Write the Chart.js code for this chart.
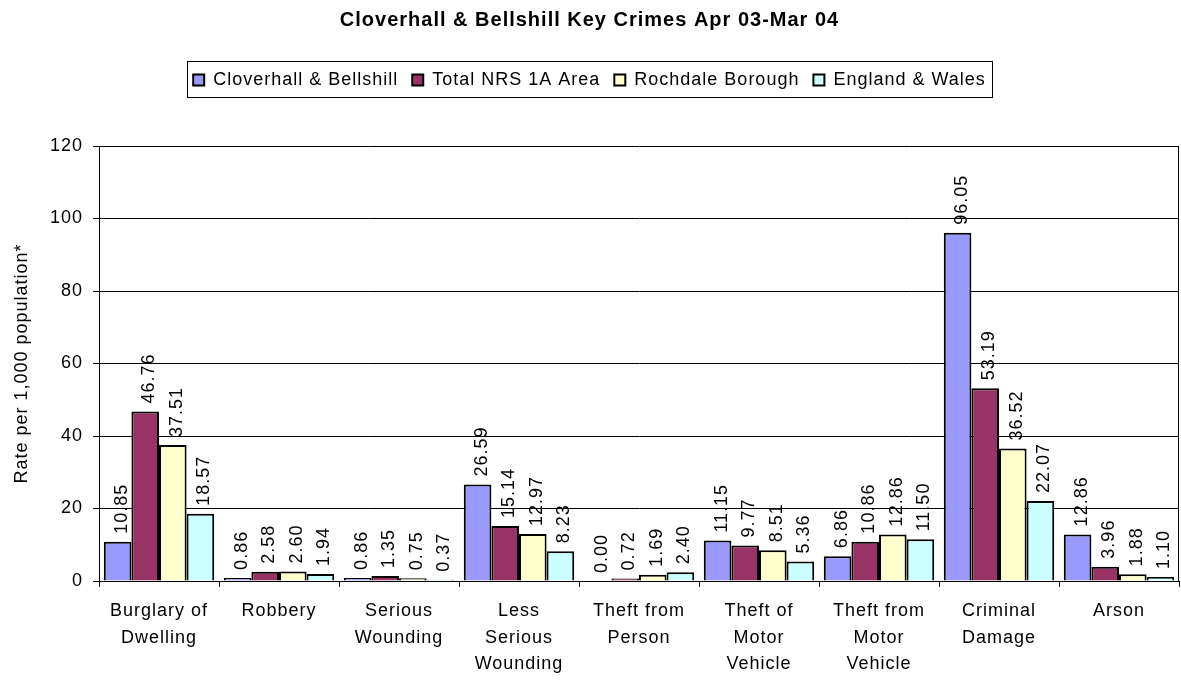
<!DOCTYPE html>
<html>
<head>
<meta charset="utf-8">
<title>Key Crimes</title>
<script src="https://cdn.jsdelivr.net/npm/chart.js@4/dist/chart.umd.min.js"></script>
<style>
  html, body { margin: 0; padding: 0; background: #fff; }
  #wrap { width: 1181px; height: 684px; }
</style>
</head>
<body>
<div id="wrap"><canvas id="keyCrimes"></canvas></div>
<script>
const crimeTypes = [
  ["Burglary of", "Dwelling"],
  "Robbery",
  ["Serious", "Wounding"],
  ["Less", "Serious", "Wounding"],
  ["Theft from", "Person"],
  ["Theft of", "Motor", "Vehicle"],
  ["Theft from", "Motor", "Vehicle"],
  ["Criminal", "Damage"],
  "Arson",
];
const cloverhall = [10.85, 0.86, 0.86, 26.59, 0.0, 11.15, 6.86, 96.05, 12.86];
const totalNrs = [46.76, 2.58, 1.35, 15.14, 0.72, 9.77, 10.86, 53.19, 3.96];
const rochdale = [37.51, 2.6, 0.75, 12.97, 1.69, 8.51, 12.86, 36.52, 1.88];
const englandWales = [18.57, 1.94, 0.37, 8.23, 2.4, 5.36, 11.5, 22.07, 1.1];
const yMax = 120;
const yStep = 20;

const FONT = "'Liberation Sans', Arial, sans-serif";

// canvas loses letterSpacing whenever it is resized, so set it again before each pass
const spacing = {
  id: "spacing",
  beforeUpdate(chart) {
    chart.ctx.letterSpacing = "1px";
  },
  beforeDraw(chart) {
    chart.ctx.letterSpacing = "1px";
  },
};

// push the plot down below the legend
const legendGap = {
  id: "legendGap",
  beforeInit(chart) {
    const fit = chart.legend.fit;
    chart.legend.fit = function () {
      fit.call(this);
      this.height += 47;
    };
  },
};

// values written vertically above each bar
const barValues = {
  id: "barValues",
  afterDatasetsDraw(chart) {
    const ctx = chart.ctx;
    ctx.save();
    ctx.font = "18px " + FONT;
    ctx.fillStyle = "#000";
    ctx.textAlign = "left";
    ctx.textBaseline = "middle";
    chart.data.datasets.forEach((ds, i) => {
      chart.getDatasetMeta(i).data.forEach((bar, j) => {
        ctx.save();
        ctx.translate(bar.x + 4, bar.y - 8);
        ctx.rotate(-Math.PI / 2);
        ctx.fillText(ds.data[j].toFixed(2), 0, 0);
        ctx.restore();
      });
    });
    ctx.restore();
  },
};

// right edge of the plot and the frame round the legend
const frames = {
  id: "frames",
  afterDraw(chart) {
    const ctx = chart.ctx;
    const area = chart.chartArea;
    ctx.save();
    ctx.strokeStyle = "#000";
    ctx.lineWidth = 1;
    ctx.beginPath();
    ctx.moveTo(Math.round(area.right) - 0.5, area.top);
    ctx.lineTo(Math.round(area.right) - 0.5, area.bottom);
    ctx.stroke();

    const boxes = chart.legend.legendHitBoxes;
    if (boxes && boxes.length) {
      const left = Math.min(...boxes.map((b) => b.left)) - 6;
      const right = Math.max(...boxes.map((b) => b.left + b.width)) + 6;
      const top = boxes[0].top - 10;
      const bottom = boxes[0].top + boxes[0].height + 8;
      ctx.strokeRect(Math.round(left) + 0.5, Math.round(top) + 0.5, Math.round(right - left), Math.round(bottom - top));
    }
    ctx.restore();
  },
};

function makeSeries(label, colour, values) {
  return {
    label: label,
    data: values,
    backgroundColor: colour,
    borderColor: "#000",
    borderWidth: 2,
    categoryPercentage: 0.92,
    barPercentage: 1.0,
  };
}

const yTickValues = [];
for (let v = 0; v <= yMax; v += yStep) yTickValues.push(v);

new Chart(document.getElementById("keyCrimes"), {
  type: "bar",
  data: {
    labels: crimeTypes,
    datasets: [
      makeSeries("Cloverhall & Bellshill", "#9999FF", cloverhall),
      makeSeries("Total NRS 1A Area", "#993366", totalNrs),
      makeSeries("Rochdale Borough", "#FFFFCC", rochdale),
      makeSeries("England & Wales", "#CCFFFF", englandWales),
    ],
  },
  options: {
    responsive: true,
    maintainAspectRatio: false,
    animation: false,
    layout: { padding: { top: 0, right: 2, bottom: 0, left: 0 } },
    plugins: {
      title: {
        display: true,
        text: "Cloverhall & Bellshill Key Crimes Apr 03-Mar 04",
        color: "#000",
        font: { family: FONT, size: 20, weight: "bold" },
        padding: { top: 8, bottom: 25 },
      },
      legend: {
        display: true,
        labels: {
          color: "#000",
          font: { family: FONT, size: 18 },
          boxWidth: 11,
          boxHeight: 11,
          padding: 14,
        },
      },
      tooltip: { enabled: false },
    },
    scales: {
      x: {
        grid: {
          display: true,
          drawOnChartArea: false,
          drawTicks: true,
          tickLength: 6,
          color: "#000",
          offset: true,
        },
        border: { display: true, color: "#000", width: 1 },
        ticks: {
          color: "#000",
          font: { family: FONT, size: 18, lineHeight: 1.47 },
          padding: 11,
          maxRotation: 0,
          autoSkip: false,
        },
        afterFit(scale) {
          scale.height = 103;
        },
      },
      y: {
        min: 0,
        max: yMax,
        afterBuildTicks(scale) {
          scale.ticks = yTickValues.map((v) => ({ value: v }));
        },
        grid: {
          color: "#000",
          lineWidth: 1,
          drawTicks: true,
          tickLength: 6,
        },
        border: { display: true, color: "#000", width: 1 },
        ticks: {
          color: "#000",
          font: { family: FONT, size: 18 },
          padding: 10,
        },
        title: {
          display: true,
          text: "Rate per 1,000 population*",
          color: "#000",
          font: { family: FONT, size: 18 },
          padding: { top: 11, bottom: 0 },
        },
        afterFit(scale) {
          scale.width = 99;
        },
      },
    },
  },
  plugins: [spacing, legendGap, barValues, frames],
});
</script>
</body>
</html>
